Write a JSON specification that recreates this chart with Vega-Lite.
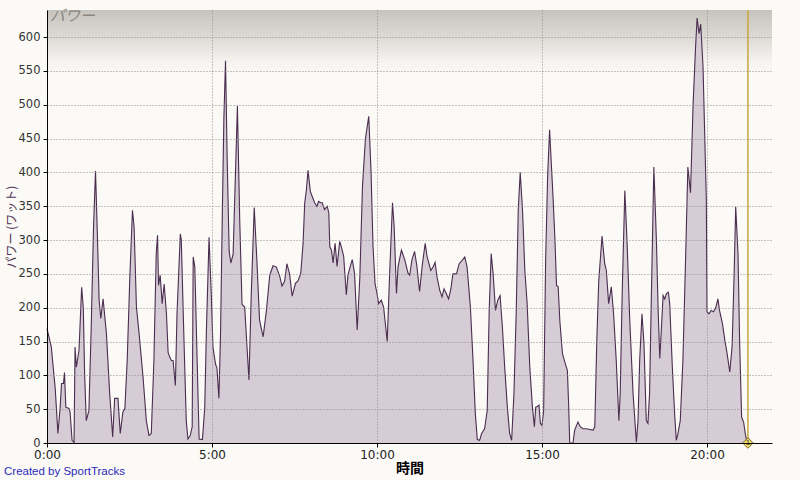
{
  "$schema": "https://vega.github.io/schema/vega-lite/v6.json",
  "width": 725,
  "height": 433,
  "autosize": {"type": "none"},
  "padding": {"left": 47, "top": 10, "right": 28, "bottom": 37},
  "background": "#fbfaf6",
  "config": {
    "font": "DejaVu Sans",
    "view": {
      "stroke": null,
      "fill": {
        "gradient": "linear", "x1": 0, "y1": 0, "x2": 0, "y2": 1,
        "stops": [
          {"offset": 0, "color": "#c7c4be"},
          {"offset": 0.06, "color": "#dcd9d4"},
          {"offset": 0.12, "color": "#f5f4f0"},
          {"offset": 0.15, "color": "#fbfaf6"},
          {"offset": 1, "color": "#fbfaf6"}
        ]
      }
    }
  },
  "datasets": {
    "power": [
      {"t":0.00,"w":169},{"t":0.13,"w":142},{"t":0.25,"w":80},{"t":0.33,"w":14},{"t":0.40,"w":53},{"t":0.44,"w":88},{"t":0.50,"w":88},{"t":0.53,"w":104},{"t":0.57,"w":53},{"t":0.67,"w":51},{"t":0.70,"w":45},{"t":0.76,"w":4},{"t":0.82,"w":1},{"t":0.85,"w":142},{"t":0.89,"w":112},{"t":0.97,"w":137},
      {"t":1.05,"w":230},{"t":1.10,"w":200},{"t":1.14,"w":102},{"t":1.19,"w":33},{"t":1.27,"w":48},{"t":1.34,"w":171},{"t":1.41,"w":319},{"t":1.47,"w":402},{"t":1.52,"w":319},{"t":1.58,"w":211},{"t":1.63,"w":184},{"t":1.70,"w":213},{"t":1.80,"w":162},{"t":1.90,"w":73},{"t":1.99,"w":9},
      {"t":2.05,"w":66},{"t":2.15,"w":66},{"t":2.22,"w":14},{"t":2.30,"w":46},{"t":2.36,"w":51},{"t":2.43,"w":122},{"t":2.51,"w":245},{"t":2.59,"w":344},{"t":2.64,"w":319},{"t":2.71,"w":201},{"t":2.79,"w":162},{"t":2.91,"w":98},
      {"t":3.01,"w":33},{"t":3.09,"w":11},{"t":3.16,"w":14},{"t":3.24,"w":122},{"t":3.31,"w":280},{"t":3.35,"w":307},{"t":3.38,"w":233},{"t":3.43,"w":248},{"t":3.49,"w":206},{"t":3.55,"w":235},{"t":3.62,"w":191},{"t":3.67,"w":134},{"t":3.72,"w":127},{"t":3.77,"w":122},{"t":3.82,"w":122},{"t":3.89,"w":85},{"t":3.94,"w":191},
      {"t":4.04,"w":309},{"t":4.07,"w":300},{"t":4.14,"w":171},{"t":4.22,"w":33},{"t":4.27,"w":6},{"t":4.34,"w":11},{"t":4.40,"w":24},{"t":4.43,"w":275},{"t":4.48,"w":260},{"t":4.55,"w":122},{"t":4.61,"w":6},{"t":4.71,"w":5},{"t":4.78,"w":52},{"t":4.83,"w":165},{"t":4.91,"w":304},{"t":4.98,"w":218},
      {"t":5.03,"w":141},{"t":5.11,"w":116},{"t":5.15,"w":111},{"t":5.21,"w":66},{"t":5.26,"w":165},{"t":5.31,"w":330},{"t":5.36,"w":480},{"t":5.41,"w":565},{"t":5.46,"w":420},{"t":5.52,"w":284},{"t":5.57,"w":266},{"t":5.64,"w":279},{"t":5.70,"w":380},{"t":5.77,"w":498},{"t":5.84,"w":330},{"t":5.91,"w":205},{"t":5.99,"w":201},
      {"t":6.12,"w":93},{"t":6.19,"w":220},{"t":6.28,"w":348},{"t":6.36,"w":270},{"t":6.44,"w":182},{"t":6.49,"w":170},{"t":6.55,"w":157},{"t":6.65,"w":196},{"t":6.75,"w":248},{"t":6.85,"w":262},{"t":6.95,"w":260},
      {"t":7.05,"w":247},{"t":7.12,"w":232},{"t":7.20,"w":239},{"t":7.27,"w":265},{"t":7.35,"w":250},{"t":7.43,"w":217},{"t":7.53,"w":236},{"t":7.61,"w":240},{"t":7.69,"w":251},{"t":7.76,"w":295},{"t":7.81,"w":355},{"t":7.86,"w":374},{"t":7.91,"w":403},{"t":7.98,"w":372},
      {"t":8.04,"w":364},{"t":8.11,"w":355},{"t":8.18,"w":350},{"t":8.23,"w":357},{"t":8.29,"w":355},{"t":8.34,"w":355},{"t":8.41,"w":345},{"t":8.49,"w":350},{"t":8.54,"w":340},{"t":8.57,"w":290},{"t":8.62,"w":285},{"t":8.67,"w":266},{"t":8.73,"w":295},{"t":8.79,"w":261},{"t":8.87,"w":298},{"t":8.92,"w":290},{"t":8.99,"w":276},
      {"t":9.07,"w":219},{"t":9.12,"w":248},{"t":9.19,"w":261},{"t":9.25,"w":271},{"t":9.32,"w":251},{"t":9.40,"w":167},{"t":9.48,"w":245},{"t":9.56,"w":379},{"t":9.65,"w":450},{"t":9.75,"w":483},{"t":9.82,"w":400},{"t":9.88,"w":290},{"t":9.94,"w":236},
      {"t":10.00,"w":221},{"t":10.05,"w":206},{"t":10.13,"w":211},{"t":10.20,"w":201},{"t":10.31,"w":150},{"t":10.38,"w":246},{"t":10.47,"w":355},{"t":10.52,"w":320},{"t":10.59,"w":221},{"t":10.64,"w":261},{"t":10.74,"w":285},{"t":10.84,"w":271},{"t":10.94,"w":251},{"t":10.99,"w":248},
      {"t":11.06,"w":271},{"t":11.14,"w":283},{"t":11.21,"w":261},{"t":11.29,"w":224},{"t":11.37,"w":262},{"t":11.46,"w":295},{"t":11.52,"w":275},{"t":11.63,"w":255},{"t":11.70,"w":260},{"t":11.76,"w":267},{"t":11.82,"w":245},{"t":11.90,"w":226},{"t":11.97,"w":216},
      {"t":12.03,"w":228},{"t":12.10,"w":221},{"t":12.17,"w":213},{"t":12.24,"w":228},{"t":12.30,"w":250},{"t":12.41,"w":250},{"t":12.49,"w":265},{"t":12.58,"w":270},{"t":12.66,"w":275},{"t":12.73,"w":260},{"t":12.83,"w":201},{"t":12.91,"w":122},{"t":12.98,"w":43},
      {"t":13.04,"w":5},{"t":13.11,"w":4},{"t":13.17,"w":14},{"t":13.26,"w":21},{"t":13.34,"w":48},{"t":13.40,"w":196},{"t":13.46,"w":280},{"t":13.52,"w":250},{"t":13.59,"w":196},{"t":13.66,"w":211},{"t":13.73,"w":218},{"t":13.80,"w":171},{"t":13.87,"w":112},{"t":13.95,"w":53},
      {"t":14.02,"w":14},{"t":14.08,"w":4},{"t":14.15,"w":73},{"t":14.22,"w":196},{"t":14.28,"w":344},{"t":14.34,"w":400},{"t":14.41,"w":344},{"t":14.48,"w":255},{"t":14.55,"w":206},{"t":14.63,"w":112},{"t":14.71,"w":53},{"t":14.77,"w":24},{"t":14.81,"w":53},{"t":14.86,"w":54},{"t":14.91,"w":56},{"t":14.95,"w":29},
      {"t":15.00,"w":26},{"t":15.05,"w":48},{"t":15.11,"w":270},{"t":15.17,"w":393},{"t":15.23,"w":463},{"t":15.33,"w":368},{"t":15.39,"w":304},{"t":15.44,"w":233},{"t":15.49,"w":231},{"t":15.54,"w":181},{"t":15.62,"w":132},{"t":15.66,"w":125},{"t":15.72,"w":115},{"t":15.77,"w":107},{"t":15.81,"w":53},{"t":15.84,"w":0},{"t":15.94,"w":0},{"t":15.99,"w":19},
      {"t":16.09,"w":31},{"t":16.16,"w":24},{"t":16.24,"w":21},{"t":16.35,"w":21},{"t":16.45,"w":20},{"t":16.55,"w":19},{"t":16.60,"w":24},{"t":16.66,"w":150},{"t":16.72,"w":240},{"t":16.82,"w":306},{"t":16.90,"w":265},{"t":16.95,"w":255},
      {"t":17.02,"w":206},{"t":17.10,"w":231},{"t":17.17,"w":191},{"t":17.25,"w":122},{"t":17.33,"w":33},{"t":17.37,"w":73},{"t":17.43,"w":221},{"t":17.51,"w":373},{"t":17.58,"w":295},{"t":17.66,"w":181},{"t":17.76,"w":73},{"t":17.86,"w":1},{"t":17.91,"w":33},{"t":17.96,"w":122},
      {"t":18.03,"w":191},{"t":18.09,"w":147},{"t":18.16,"w":33},{"t":18.21,"w":29},{"t":18.26,"w":73},{"t":18.31,"w":206},{"t":18.39,"w":408},{"t":18.47,"w":295},{"t":18.52,"w":196},{"t":18.57,"w":125},{"t":18.62,"w":171},{"t":18.67,"w":218},{"t":18.72,"w":213},{"t":18.77,"w":221},{"t":18.83,"w":223},{"t":18.87,"w":206},{"t":18.95,"w":112},
      {"t":19.02,"w":43},{"t":19.07,"w":4},{"t":19.12,"w":14},{"t":19.19,"w":33},{"t":19.27,"w":122},{"t":19.35,"w":270},{"t":19.42,"w":408},{"t":19.50,"w":370},{"t":19.58,"w":502},{"t":19.65,"w":581},{"t":19.70,"w":628},{"t":19.76,"w":605},{"t":19.81,"w":619},{"t":19.88,"w":556},{"t":19.98,"w":359},
      {"t":20.00,"w":194},{"t":20.06,"w":191},{"t":20.13,"w":196},{"t":20.20,"w":194},{"t":20.26,"w":199},{"t":20.33,"w":213},{"t":20.38,"w":196},{"t":20.47,"w":176},{"t":20.54,"w":152},{"t":20.61,"w":132},{"t":20.69,"w":105},{"t":20.76,"w":142},{"t":20.82,"w":245},{"t":20.87,"w":349},{"t":20.94,"w":280},{"t":20.99,"w":147},
      {"t":21.05,"w":38},{"t":21.11,"w":31},{"t":21.16,"w":14},{"t":21.21,"w":1}
    ],
    "marker": [{"t": 21.24, "w": 0, "n": "1"}],
    "title": [{"t": 0, "w": 640, "s": "パワー"}],
    "credit": [{"t": 0, "w": 0, "s": "Created by SportTracks"}]
  },
  "encoding": {
    "x": {
      "field": "t", "type": "quantitative",
      "scale": {"domain": [0, 21.97], "nice": false, "zero": false},
      "axis": {
        "values": [0, 5, 10, 15, 20],
        "labelExpr": "datum.value + ':00'",
        "title": "時間",
        "titleFont": "Noto Sans CJK JP",
        "titleFontWeight": "bold",
        "titleFontSize": 14,
        "titleColor": "#000000",
        "titlePadding": 1,
        "grid": true,
        "gridDash": [1, 2],
        "gridColor": "#8c8c8c",
        "gridWidth": 1,
        "domainColor": "#000000",
        "domainWidth": 1,
        "tickColor": "#000000",
        "tickSize": 4,
        "labelColor": "#222222",
        "labelFontSize": 12,
        "labelFont": "DejaVu Sans",
        "labelPadding": 2,
        "labelFlush": false,
        "labelOverlap": false,
        "zindex": 1
      }
    },
    "y": {
      "field": "w", "type": "quantitative",
      "scale": {"domain": [0, 640], "nice": false},
      "axis": {
        "values": [0, 50, 100, 150, 200, 250, 300, 350, 400, 450, 500, 550, 600],
        "tickCount": 13,
        "title": "パワー (ワット)",
        "titleFont": "Noto Sans CJK JP",
        "titleFontWeight": "normal",
        "titleFontSize": 12,
        "titleColor": "#4e3352",
        "titlePadding": 0,
        "grid": true,
        "gridDash": [1, 2],
        "gridColor": "#8c8c8c",
        "gridWidth": 1,
        "domainColor": "#000000",
        "domainWidth": 1,
        "tickColor": "#000000",
        "tickSize": 4,
        "labelColor": "#333333",
        "labelFontSize": 11.5,
        "labelFont": "DejaVu Sans",
        "labelPadding": 3,
        "labelFlush": false,
        "labelOverlap": false,
        "zindex": 1
      }
    }
  },
  "layer": [
    {
      "data": {"name": "power"},
      "mark": {"type": "area", "fill": "#d6ccd6", "interpolate": "linear"}
    },
    {
      "data": {"name": "power"},
      "mark": {"type": "line", "stroke": "#4a2d4f", "strokeWidth": 1.1, "interpolate": "linear"}
    },
    {
      "data": {"name": "marker"},
      "mark": {"type": "rule", "stroke": "#c9a83a", "strokeWidth": 1.5},
      "encoding": {
        "y2": {"datum": 640}
      }
    },
    {
      "data": {"name": "marker"},
      "mark": {"type": "point", "shape": "diamond", "filled": true, "fill": "#f2dc6a", "stroke": "#7a6020", "strokeWidth": 1, "size": 110, "opacity": 1}
    },
    {
      "data": {"name": "marker"},
      "mark": {"type": "text", "fontSize": 7, "color": "#333333", "align": "center", "baseline": "middle"},
      "encoding": {"text": {"field": "n"}}
    },
    {
      "data": {"name": "title"},
      "mark": {"type": "text", "font": "Noto Sans CJK JP", "fontSize": 15, "fontStyle": "italic", "color": "#8a857f", "align": "left", "baseline": "top", "dx": 3, "dy": -1},
      "encoding": {"text": {"field": "s"}}
    },
    {
      "data": {"name": "credit"},
      "mark": {"type": "text", "font": "Liberation Sans", "fontSize": 11.5, "color": "#2a2ab8", "align": "left", "baseline": "middle", "dx": -43, "dy": 29},
      "encoding": {"text": {"field": "s"}}
    }
  ]
}
